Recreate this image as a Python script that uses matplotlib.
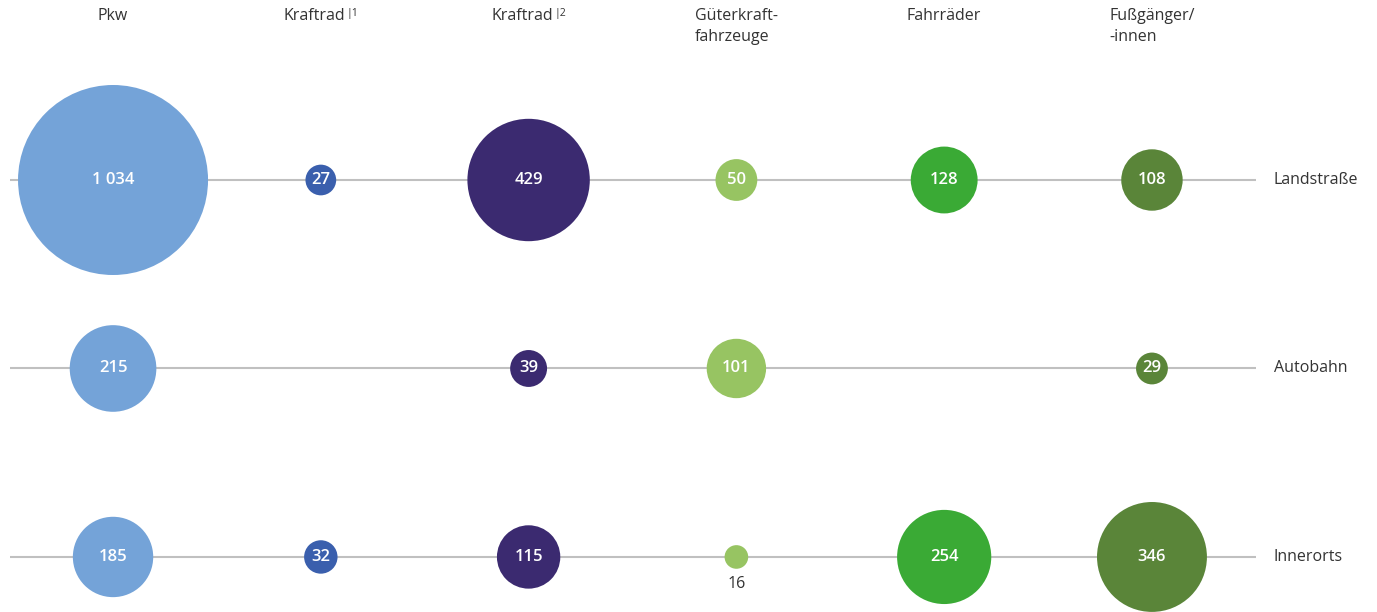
import matplotlib.pyplot as plt

plt.rcParams['font.family'] = ['Open Sans', 'DejaVu Sans']

# columns (vehicle types) and rows (road type)
categories = ['Pkw', 'Kraftrad', 'Kraftrad', 'Güterkraft-\nfahrzeuge', 'Fahrräder', 'Fußgänger/\n-innen']
footnotes = [None, '|1', '|2', None, None, None]
roads = ['Landstraße', 'Autobahn', 'Innerorts']
colors = ['#74a3d8', '#3a5fad', '#3b2a70', '#97c462', '#3aaa35', '#5a8539']

landstrasse = [1034, 27, 429, 50, 128, 108]
autobahn = [215, None, 39, 101, None, 29]
innerorts = [185, 32, 115, 16, 254, 346]
values = [landstrasse, autobahn, innerorts]


def fmt(v):
    return f'{v:,}'.replace(',', ' ')


fig = plt.figure(figsize=(13.77, 6.12), dpi=100)
ax = fig.add_axes([0, 0, 1, 1])
ax.set_xlim(-0.544, 6.083)
ax.set_ylim(2.292, -0.955)
ax.axis('off')

for r, road in enumerate(roads):
    ax.plot([-0.496, 5.50], [r, r], color='#c0c0c0', lw=1.5, zorder=1, solid_capstyle='butt')
    ax.text(5.587, r, road, ha='left', va='center', fontsize=11.5, color='#333333')
    for c, v in enumerate(values[r]):
        if v is None:
            continue
        # bubble area proportional to the value
        ax.scatter(c, r, s=v * 18.1, color=colors[c], edgecolors='none', zorder=2)
        if v < 20:
            ax.text(c, r + 0.145, fmt(v), ha='center', va='center', fontsize=11.5, color='#333333')
        else:
            ax.text(c, r, fmt(v), ha='center', va='center', fontsize=12,
                    color='white', fontweight='semibold', zorder=3)

for c, name in enumerate(categories):
    dx = -0.03 if footnotes[c] else 0
    t = ax.text(c + dx, -0.91, name, ha='center', va='top', fontsize=11.5,
                color='#333333', linespacing=1.35, multialignment='left')
    if footnotes[c]:
        ax.annotate(footnotes[c], xy=(1, 1), xycoords=t, xytext=(1, 0),
                    textcoords='offset points', ha='left', va='top',
                    fontsize=7.5, color='#333333')

fig.savefig('out.png', dpi=100)
